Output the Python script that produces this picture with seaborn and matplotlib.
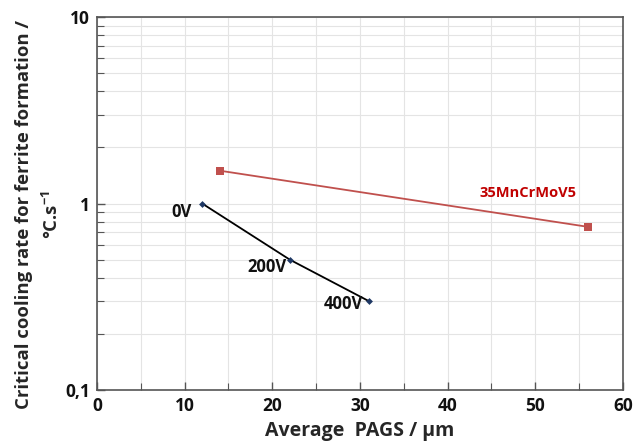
import matplotlib
matplotlib.use("Agg")
import matplotlib.pyplot as plt
import matplotlib.ticker as mticker
import pandas as pd
import seaborn as sns

# Prior austenite grain size (µm) and critical cooling rate (°C/s)
steel_pags = [14, 56]
steel_rate = [1.5, 0.75]
steel_name = "35MnCrMoV5"

voltage_pags = [12, 22, 31]
voltage_rate = [1.0, 0.5, 0.3]
voltage_labels = ["0V", "200V", "400V"]

x_ticks = [0, 10, 20, 30, 40, 50, 60]
y_ticks = [0.1, 1, 10]
y_tick_labels = ["0,1", "1", "10"]

sns.set_theme(style="white")
plt.rcParams["font.family"] = ["Open Sans", "DejaVu Sans"]
plt.rcParams["font.weight"] = "bold"
plt.rcParams["mathtext.fontset"] = "custom"
plt.rcParams["mathtext.bf"] = "Open Sans:bold"
plt.rcParams["mathtext.rm"] = "Open Sans:bold"

steel_df = pd.DataFrame({"pags": steel_pags, "rate": steel_rate})
volt_df = pd.DataFrame({"pags": voltage_pags, "rate": voltage_rate})

fig = plt.figure(figsize=(6.33, 4.42), dpi=100)
ax = fig.add_axes([0.1532, 0.1176, 0.8308, 0.8439])

sns.lineplot(data=steel_df, x="pags", y="rate", ax=ax, color="#c0504d",
             marker="s", markersize=5.5, markeredgewidth=0, linewidth=1.3)
sns.lineplot(data=volt_df, x="pags", y="rate", ax=ax, color="black",
             marker="D", markersize=3.5, markerfacecolor="#1f3864",
             markeredgewidth=0, linewidth=1.3)

ax.set_yscale("log")
ax.set_xlim(0, 60)
ax.set_ylim(0.1, 10)

ax.set_xticks(x_ticks)
ax.xaxis.set_minor_locator(mticker.MultipleLocator(5))
ax.set_yticks(y_ticks)
ax.set_yticklabels(y_tick_labels)
ax.yaxis.set_minor_locator(mticker.LogLocator(base=10, subs=range(2, 10)))
ax.yaxis.set_minor_formatter(mticker.NullFormatter())

ax.grid(True, which="both", color="#e4e4e4", linewidth=0.8)
ax.set_axisbelow(True)

ax.tick_params(axis="both", which="both", direction="in", color="#555555",
               top=False, right=False, bottom=True, left=True)
ax.tick_params(axis="both", which="major", length=6, width=1,
               labelsize=12.5, pad=5, labelcolor="#111111")
ax.tick_params(axis="both", which="minor", length=5, width=0.8)
for lbl in ax.get_xticklabels() + ax.get_yticklabels():
    lbl.set_fontweight("bold")

for side in ["left", "bottom", "top", "right"]:
    ax.spines[side].set_color("#555555")
    ax.spines[side].set_linewidth(1.2)

# Point labels for the voltage series, placed left of and just below each point
offsets = [(-11, -8), (-3, -7), (-6, -3)]
for x, y, txt, off in zip(voltage_pags, voltage_rate, voltage_labels, offsets):
    ax.annotate(txt, (x, y), xytext=off, textcoords="offset pixels",
                fontsize=12, fontweight="bold", color="#111111",
                ha="right", va="center")

ax.text(49.2, 1.14, steel_name, color="#c00000", fontsize=10.5,
        fontweight="bold", ha="center", va="center")

ax.set_xlabel("Average  PAGS / µm", fontsize=14, fontweight="bold", labelpad=4)
ax.set_ylabel("Critical cooling rate for ferrite formation /\n°C.s$^{\\mathbf{-1}}$",
              fontsize=13.3, fontweight="bold", linespacing=1.55)
ax.yaxis.set_label_coords(-0.066, 0.47)

fig.savefig("out.png", dpi=100)
